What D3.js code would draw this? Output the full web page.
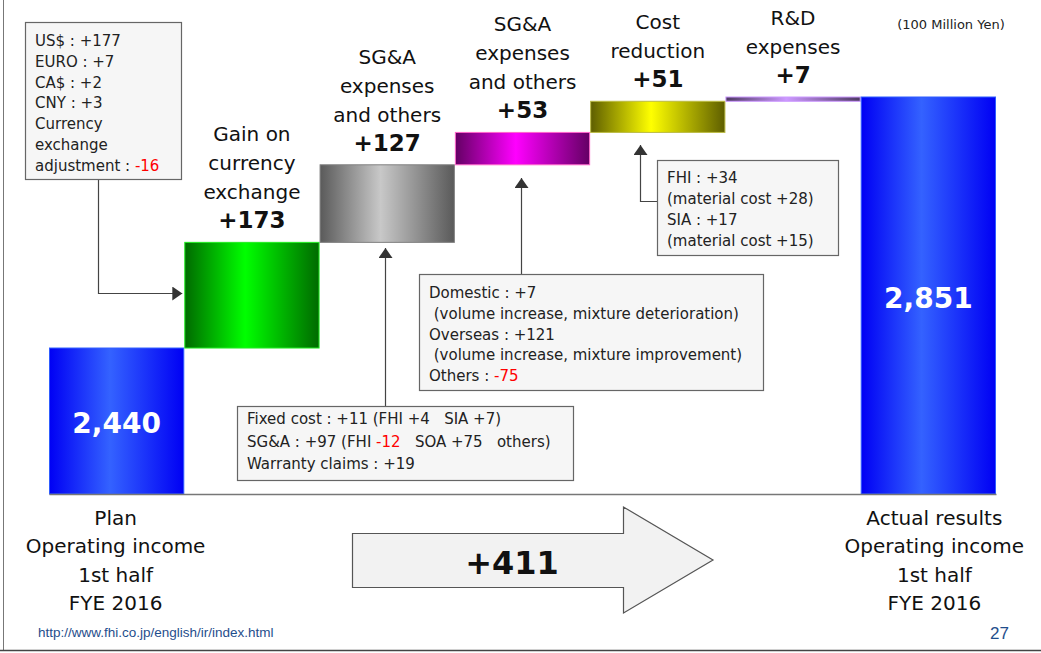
<!DOCTYPE html>
<html><head><meta charset="utf-8">
<script src="https://cdn.jsdelivr.net/npm/d3@7"></script>
<style>
body{margin:0;background:#fff;}
svg{display:block;font-family:"DejaVu Sans",Verdana,sans-serif;}
</style>
</head><body>
<svg id="c" width="1041" height="653"></svg>
<script>
// ---------- data ----------
const categories = ["Plan", "Gain on currency exchange", "SG&A expenses and others", "SG&A expenses and others (2)", "Cost reduction", "R&D expenses", "Actual results"];
const values = [2440, 173, 127, 53, 51, 7, 2851];
const kinds = ["total", "delta", "delta", "delta", "delta", "delta", "total"];
const valueLabels = ["2,440", "+173", "+127", "+53", "+51", "+7", "2,851"];
const labelLines = [[], ["Gain on", "currency", "exchange"], ["SG&A", "expenses", "and others"], ["SG&A", "expenses", "and others"], ["Cost", "reduction"], ["R&D", "expenses"], []];
const barEdge = ["#0000f4", "#006a00", "#5a5a5a", "#640064", "#5e5e00", "#4e3a62", "#0000f4"];
const barCenter = ["#3462ff", "#00ff00", "#c8c8c8", "#ff00ff", "#ffff00", "#cc99ff", "#3462ff"];
const barStroke = ["#2f5cff", "#22ee22", "#808080", "#ff66cc", "#bbbb44", "#cc99ff", "#2f5cff"];
const bottomLeft = ["Plan", "Operating income", "1st half", "FYE 2016"];
const bottomRight = ["Actual results", "Operating income", "1st half", "FYE 2016"];
const totalChange = "+411";
const unitLabel = "(100 Million Yen)";
const footerUrl = "http://www.fhi.co.jp/english/ir/index.html";
const pageNumber = "27";
const noteCurrency = [[["US$ : +177"]], [["EURO : +7"]], [["CA$ : +2"]], [["CNY : +3"]], [["Currency"]], [["exchange"]], [["adjustment : "], ["-16", "red"]]];
const noteSGA1 = [[["Fixed cost : +11 (FHI +4   SIA +7)"]], [["SG&A : +97 (FHI "], ["-12", "red"], ["   SOA +75   others)"]], [["Warranty claims : +19"]]];
const noteSGA2 = [[["Domestic : +7"]], [[" (volume increase, mixture deterioration)"]], [["Overseas : +121"]], [[" (volume increase, mixture improvement)"]], [["Others : "], ["-75", "red"]]];
const noteCost = [[["FHI : +34"]], [["(material cost +28)"]], [["SIA : +17"]], [["(material cost +15)"]]];

// ---------- layout ----------
const svg = d3.select("#c");
const x = d3.scaleBand().domain(d3.range(categories.length)).range([49, 996]).padding(0);
const y = d3.scaleLinear().domain([2201, 2851]).range([494, 97]);
const bw = x.bandwidth();

// waterfall
let run = 0;
const bars = values.map((v, i) => {
  let lo, hi;
  if (kinds[i] === "total") { lo = y.domain()[0]; hi = v; run = v; }
  else { lo = run; hi = run + v; run = hi; }
  return { i, lo, hi };
});

const defs = svg.append("defs");
bars.forEach(b => {
  const g = defs.append("linearGradient").attr("id", "g" + b.i)
    .attr("x1", "0%").attr("x2", "100%").attr("y1", "0%").attr("y2", "0%");
  g.append("stop").attr("offset", "0%").attr("stop-color", barEdge[b.i]);
  g.append("stop").attr("offset", "45%").attr("stop-color", barCenter[b.i]);
  g.append("stop").attr("offset", "100%").attr("stop-color", barEdge[b.i]);
});
defs.append("marker").attr("id", "ah").attr("viewBox", "0 0 10 14")
  .attr("refX", 10).attr("refY", 7).attr("markerWidth", 10).attr("markerHeight", 14)
  .attr("markerUnits", "userSpaceOnUse").attr("orient", "auto")
  .append("path").attr("d", "M0,0 L10,7 L0,14 Z").attr("fill", "#333");

// slide frame
svg.append("line").attr("x1", 3.5).attr("x2", 3.5).attr("y1", 0).attr("y2", 650).attr("stroke", "#777").attr("stroke-width", 1);
svg.append("line").attr("x1", 0).attr("x2", 1041).attr("y1", 650.5).attr("y2", 650.5).attr("stroke", "#444").attr("stroke-width", 1.5);

// bars
svg.append("g").selectAll("rect").data(bars).join("rect")
  .attr("x", d => x(d.i) + 0.5)
  .attr("y", d => y(d.hi))
  .attr("width", bw - 1)
  .attr("height", d => Math.max(1, y(d.lo) - y(d.hi)))
  .attr("fill", d => `url(#g${d.i})`)
  .attr("stroke", d => barStroke[d.i]).attr("stroke-width", 1);

// baseline axis
const axisG = svg.append("g").attr("transform", `translate(0,${y.range()[0]})`)
  .call(d3.axisBottom(x).tickSize(0).tickFormat(""));
axisG.select(".domain").attr("stroke", "#777").attr("stroke-width", 1.5);

// labels above delta bars
bars.filter(b => kinds[b.i] === "delta").forEach(b => {
  const cx = x(b.i) + bw / 2;
  const base = y(b.hi) - 14;
  svg.append("text").attr("x", cx).attr("y", base).attr("text-anchor", "middle")
    .attr("font-size", 23).attr("font-weight", "bold").attr("fill", "#111").text(valueLabels[b.i]);
  const lines = labelLines[b.i];
  lines.forEach((t, k) => {
    svg.append("text").attr("x", cx).attr("y", base - 29 * (lines.length - k))
      .attr("text-anchor", "middle").attr("font-size", 20).attr("fill", "#111").text(t);
  });
});

// totals inside bars
bars.filter(b => kinds[b.i] === "total").forEach(b => {
  svg.append("text").attr("x", x(b.i) + bw / 2)
    .attr("y", b.i === 0 ? 433 : 308)
    .attr("text-anchor", "middle").attr("font-size", 28).attr("font-weight", "bold")
    .attr("fill", "#fff").text(valueLabels[b.i]);
});

// unit label
svg.append("text").attr("x", 951).attr("y", 29).attr("text-anchor", "middle")
  .attr("font-size", 13).attr("fill", "#222").text(unitLabel);

// annotation boxes
function note(lines, bx, by, w, h, tx, firstBase, lh) {
  svg.append("rect").attr("x", bx + 0.5).attr("y", by + 0.5).attr("width", w).attr("height", h)
    .attr("fill", "#f6f6f6").attr("stroke", "#666").attr("stroke-width", 1.2);
  lines.forEach((segs, k) => {
    const t = svg.append("text").attr("x", tx).attr("y", firstBase + k * lh)
      .attr("font-size", 15).attr("fill", "#222").attr("xml:space", "preserve")
      .style("white-space", "pre");
    segs.forEach(s => t.append("tspan").attr("fill", s[1] || "#222").text(s[0]));
  });
}
function conn(d) {
  svg.append("path").attr("d", d).attr("fill", "none").attr("stroke", "#444")
    .attr("stroke-width", 1.2).attr("marker-end", "url(#ah)");
}
conn(`M98.5,179 V293.5 H${x(1) - 2}`);
conn(`M385.5,406 V248`);
conn(`M521.5,274 V178`);
conn(`M657,201.5 H640.5 V145`);

note(noteCurrency, 25, 22, 156, 157, 35, 46, 20.8);
note(noteSGA1, 237, 406, 336, 74, 247, 424, 22.5);
note(noteSGA2, 419, 274, 344, 116, 429, 298, 20.8);
note(noteCost, 657, 160, 181, 95, 667, 183, 21);

// bottom category labels
function stack(lines, cx) {
  lines.forEach((t, k) => {
    svg.append("text").attr("x", cx).attr("y", 525 + k * 28.3).attr("text-anchor", "middle")
      .attr("font-size", 20).attr("fill", "#111").text(t);
  });
}
stack(bottomLeft, x(0) + bw / 2 - 1);
stack(bottomRight, x(categories.length - 1) + bw / 2 + 6);

// big arrow
svg.append("path").attr("d", "M352.5,533.5 H623.5 V507 L713,560 L623.5,613 V587.5 H352.5 Z")
  .attr("fill", "#f2f2f2").attr("stroke", "#555").attr("stroke-width", 1.2);
svg.append("text").attr("x", 512).attr("y", 574).attr("text-anchor", "middle")
  .attr("font-size", 32).attr("font-weight", "bold").attr("fill", "#111").text(totalChange);

// footer
svg.append("text").attr("x", 38).attr("y", 637).attr("font-family", "'Liberation Sans', Arial, sans-serif")
  .attr("font-size", 13.5).attr("fill", "#1f4e8c").text(footerUrl);
svg.append("text").attr("x", 1009).attr("y", 639).attr("text-anchor", "end").attr("font-family", "'Liberation Sans', Arial, sans-serif")
  .attr("font-size", 17).attr("fill", "#1f4e8c").text(pageNumber);
</script>
</body></html>
